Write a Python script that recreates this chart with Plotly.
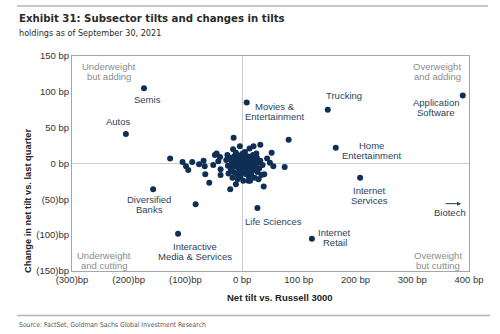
import plotly.graph_objects as go

# ---- data (bp) ----
labeled_names = ["Semis", "Autos", "Movies &<br>Entertainment", "Trucking", "Application<br>Software",
                 "Home<br>Entertainment", "Internet<br>Services", "Internet<br>Retail", "Life Sciences",
                 "Diversified<br>Banks", "Interactive<br>Media & Services"]
labeled_x = [-173, -205, 8, 151, 389, 165, 208, 123, 27, -157, -113]
labeled_y = [105, 41, 85, 75, 95, 22, -20, -105, -62, -36, -98]

other_x = [-15, -127, -105, -99, -95, -88, -76, -68, -66, -65, -58, -51, -45, -48, -39, -42, -38, -38,
           -21, -11, -16, -4, 13, 20, 32, 52, 44, 49, 55, 39, 38, 75, 82, -82,
           -28, -25, -22, -20, -18, -15, -14, -12, -10, -9, -8, -7, -6, -5, -4, -3, -2, -1, 0, 0, 1, 2, 3,
           4, 5, 6, 7, 8, 9, 10, 11, 12, 13, 14, 15, 16, 17, 18, 19, 20, 21, 22, 23, 24, 26, 27, 28, 30,
           32, 34, 36, -24, -17, -11, -3, 5, 11, -26, 25, -19, -13, -1, 3, 7, 1, -6, 14, 9, -16, 29, -8, 2]
other_y = [36, 7, 2, -4, -9, 2, -1, 4, -4, -15, -27, -2, 14, 12, 9, 3, -8, -16,
           -36, -29, 20, 24, 21, 24, 26, 15, 7, 1, -4, -15, -32, -5, 33, -57,
           5, -3, 8, -8, 2, -12, 10, -4, 4, -15, 12, -6, 0, 7, -10, 3, -3, 9, -7, 2, -13, 5, -2,
           11, -8, 1, -4, 7, -11, 3, -1, -18, 9, -6, 2, -14, 6, -3, 12, -9, 0, -20, 5, -5, 8, -12, 1, -7,
           4, -16, -2, -14, -20, 15, -19, 16, -24, 12, 14, -1, 6, -9, 8, -15, 14, -13, -24, 10, 3, -22, -22, -24]

# label offsets in px (dx right, dy up)
label_dx = [3, -7, 28, 16, -27, 36, 9, 23, 16, -4, 17]
label_dy = [-11, 13, -9, 14, -12, -3, -18, 1, -14, -15, -18]

x_ticks = [-300, -200, -100, 0, 100, 200, 300, 400]
x_ticktext = ["(300)bp", "(200)bp", "(100)bp", "0 bp", "100 bp", "200 bp", "300 bp", "400 bp"]
y_ticks = [-150, -100, -50, 0, 50, 100, 150]
y_ticktext = ["(150)bp", "(100)bp", "(50)bp", "0 bp", "50 bp", "100 bp", "150 bp"]

quadrants = [("Underweight<br>but adding", 109, 71), ("Overweight<br>and adding", 437, 71),
             ("Underweight<br>and cutting", 104, 260), ("Overweight<br>but cutting", 438, 260)]

# ---- layout geometry ----
W, H = 500, 334
L, R, T, B = 72, 469, 56, 271
NAVY = "#0f2f55"
LBL = "#2b3f5c"
FONT = "Liberation Sans, Arial, sans-serif"
NARROW = "Liberation Sans Narrow, DejaVu Sans Condensed, Roboto Condensed, Arial Narrow, sans-serif"

def px(x):
    return (x - L) / (R - L)

def py(y):
    return (B - y) / (B - T)

fig = go.Figure()
fig.add_trace(go.Scatter(x=other_x + labeled_x, y=other_y + labeled_y, mode="markers",
                         marker=dict(size=6, color=NAVY), hoverinfo="skip"))

ann = []

def multiline(text, x, y, xref, yref, xshift, yshift, color, size, spacing=10, **kw):
    lines = text.split("<br>")
    n = len(lines)
    for i, ln in enumerate(lines):
        off = (n - 1) / 2 * spacing - i * spacing
        ann.append(dict(text=ln, x=x, y=y, xref=xref, yref=yref, xshift=xshift, yshift=yshift + off,
                        showarrow=False, xanchor="center", yanchor="middle",
                        font=dict(family=FONT, size=size, color=color), **kw))

for name, xv, yv, dx, dy in zip(labeled_names, labeled_x, labeled_y, label_dx, label_dy):
    multiline(name, xv, yv, "x", "y", dx, dy, LBL, 9.5)

for txt, qx, qy in quadrants:
    multiline(txt, px(qx), py(qy), "paper", "paper", 0, 0, "#8c8c8c", 9.5)

# Biotech (off-scale) arrow + label
ann.append(dict(text="", x=386, y=-56, xref="x", yref="y", ax=-17, ay=0, showarrow=True,
                arrowhead=2, arrowsize=0.8, arrowwidth=1, arrowcolor=LBL))
ann.append(dict(text="Biotech", x=366, y=-68, xref="x", yref="y", showarrow=False,
                font=dict(family=FONT, size=9.5, color=LBL)))

# titles
ann.append(dict(text="<b>Exhibit 31: Subsector tilts and changes in tilts</b>", x=px(17), y=py(19),
                xref="paper", yref="paper", xanchor="left", yanchor="middle", showarrow=False,
                font=dict(family=NARROW, size=11.3, color="#2a2a2a")))
ann.append(dict(text="holdings as of September 30, 2021", x=px(17), y=py(33),
                xref="paper", yref="paper", xanchor="left", yanchor="middle", showarrow=False,
                font=dict(family=NARROW, size=9, color="#2a2a2a")))
ann.append(dict(text="Source: FactSet, Goldman Sachs Global Investment Research", x=px(17), y=py(325),
                xref="paper", yref="paper", xanchor="left", yanchor="middle", showarrow=False,
                font=dict(family=NARROW, size=6.8, color="#555555")))
ann.append(dict(text="<b>Net tilt vs. Russell 3000</b>", x=px(280), y=py(297),
                xref="paper", yref="paper", xanchor="center", yanchor="middle", showarrow=False,
                font=dict(family=FONT, size=9.5, color="#222222")))
ann.append(dict(text="<b>Change in net tilt vs. last quarter</b>", x=px(28), y=py(169), textangle=-90,
                xref="paper", yref="paper", xanchor="center", yanchor="middle", yshift=-32,
                showarrow=False, font=dict(family=FONT, size=9.3, color="#222222")))

shapes = [
    dict(type="line", xref="paper", yref="paper", x0=px(17), x1=px(488), y0=py(6), y1=py(6),
         line=dict(color="#b4b4b4", width=1.5)),
    dict(type="line", xref="paper", yref="paper", x0=px(17), x1=px(490), y0=py(315.5), y1=py(315.5),
         line=dict(color="#b4b4b4", width=1.5)),
]

axis_common = dict(showgrid=False, zeroline=True, zerolinecolor="#cccccc", zerolinewidth=1,
                   showline=True, linecolor="#a6a6a6", linewidth=1, mirror=True, ticks="",
                   tickfont=dict(family=FONT, size=9.5, color="#333333"), fixedrange=True)

fig.update_layout(
    width=W, height=H, autosize=False,
    margin=dict(l=L, r=W - R, t=T, b=H - B),
    paper_bgcolor="white", plot_bgcolor="white", showlegend=False,
    xaxis=dict(range=[-300, 400], tickvals=x_ticks, ticktext=x_ticktext, **axis_common),
    yaxis=dict(range=[-150, 150], tickvals=y_ticks, ticktext=y_ticktext, **axis_common),
    annotations=ann, shapes=shapes,
)

fig.write_html("out.html")
